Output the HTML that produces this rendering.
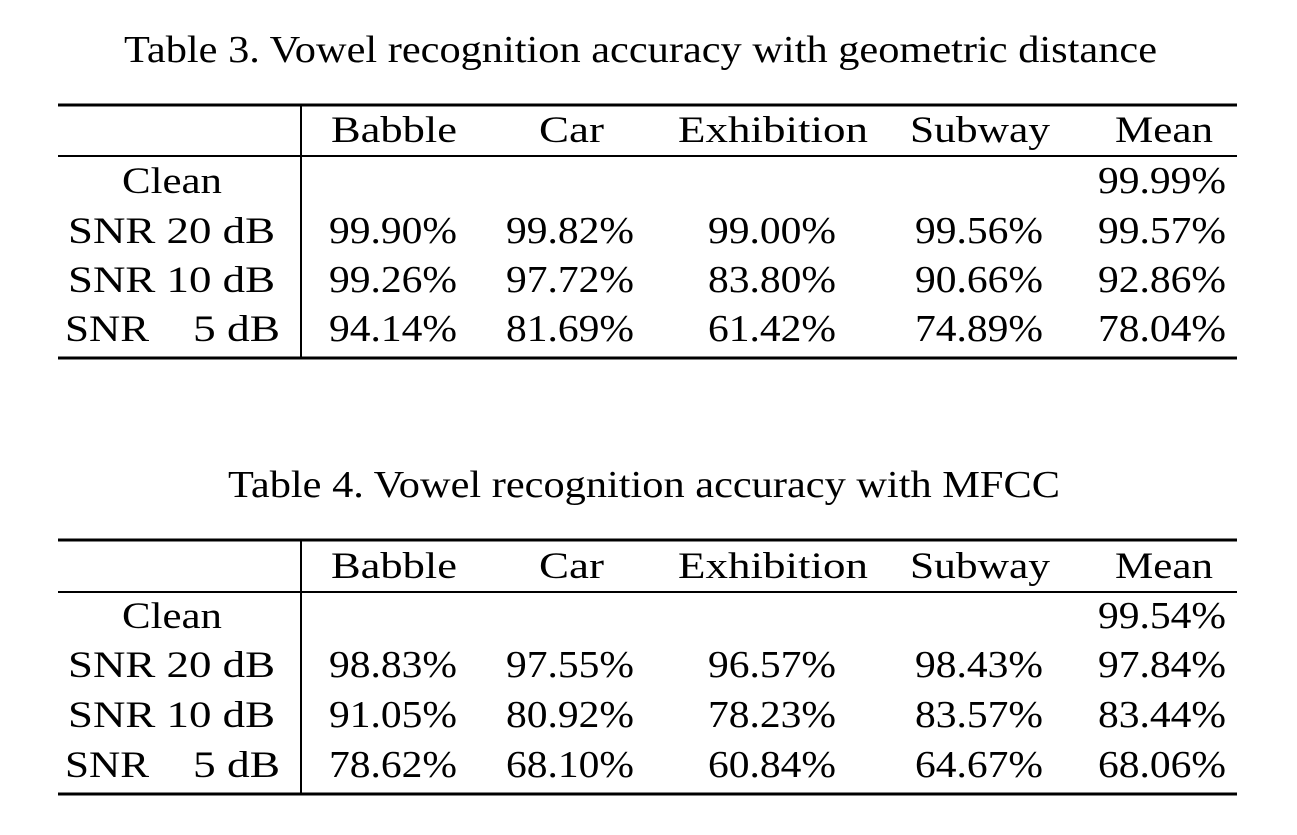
<!DOCTYPE html>
<html><head><meta charset="utf-8"><style>
html,body{margin:0;padding:0;background:#fff;}
svg{display:block;}
text{font-family:"Liberation Serif",serif;fill:#000;}
</style></head><body>
<svg width="1297" height="835" viewBox="0 0 1297 835" xmlns="http://www.w3.org/2000/svg">
<g font-size="38">
<text x="124" y="62" textLength="1033" lengthAdjust="spacingAndGlyphs">Table 3.  Vowel recognition accuracy with geometric distance</text>
<text x="228" y="497" textLength="832" lengthAdjust="spacingAndGlyphs">Table 4.  Vowel recognition accuracy with MFCC</text>
</g>

<g stroke="#000">
<line x1="58" y1="105" x2="1237" y2="105" stroke-width="3"/>
<line x1="58" y1="156" x2="1237" y2="156" stroke-width="2"/>
<line x1="58" y1="358" x2="1237" y2="358" stroke-width="3"/>
<line x1="301" y1="105" x2="301" y2="358" stroke-width="2"/>
<line x1="58" y1="540" x2="1237" y2="540" stroke-width="3"/>
<line x1="58" y1="592" x2="1237" y2="592" stroke-width="2"/>
<line x1="58" y1="794" x2="1237" y2="794" stroke-width="3"/>
<line x1="301" y1="540" x2="301" y2="794" stroke-width="2"/>
</g>

<g font-size="37">
<text x="331" y="142" textLength="126" lengthAdjust="spacingAndGlyphs">Babble</text>
<text x="539" y="142" textLength="65" lengthAdjust="spacingAndGlyphs">Car</text>
<text x="678" y="142" textLength="190" lengthAdjust="spacingAndGlyphs">Exhibition</text>
<text x="910" y="142" textLength="140" lengthAdjust="spacingAndGlyphs">Subway</text>
<text x="1115" y="142" textLength="98" lengthAdjust="spacingAndGlyphs">Mean</text>

<text x="331" y="578" textLength="126" lengthAdjust="spacingAndGlyphs">Babble</text>
<text x="539" y="578" textLength="65" lengthAdjust="spacingAndGlyphs">Car</text>
<text x="678" y="578" textLength="190" lengthAdjust="spacingAndGlyphs">Exhibition</text>
<text x="910" y="578" textLength="140" lengthAdjust="spacingAndGlyphs">Subway</text>
<text x="1115" y="578" textLength="98" lengthAdjust="spacingAndGlyphs">Mean</text>

<text x="122" y="193" textLength="100" lengthAdjust="spacingAndGlyphs">Clean</text>
<text x="68" y="243" textLength="207" lengthAdjust="spacingAndGlyphs">SNR 20 dB</text>
<text x="68" y="292" textLength="207" lengthAdjust="spacingAndGlyphs">SNR 10 dB</text>
<text x="65" y="341" textLength="84" lengthAdjust="spacingAndGlyphs">SNR</text>
<text x="193" y="341" textLength="87" lengthAdjust="spacingAndGlyphs">5 dB</text>

<text x="122" y="628" textLength="100" lengthAdjust="spacingAndGlyphs">Clean</text>
<text x="68" y="677" textLength="207" lengthAdjust="spacingAndGlyphs">SNR 20 dB</text>
<text x="68" y="727" textLength="207" lengthAdjust="spacingAndGlyphs">SNR 10 dB</text>
<text x="65" y="777" textLength="84" lengthAdjust="spacingAndGlyphs">SNR</text>
<text x="193" y="777" textLength="87" lengthAdjust="spacingAndGlyphs">5 dB</text>
</g>

<g font-size="38">
<text x="1098" y="193" textLength="128" lengthAdjust="spacingAndGlyphs">99.99%</text>
<text x="329" y="243" textLength="128" lengthAdjust="spacingAndGlyphs">99.90%</text><text x="506" y="243" textLength="128" lengthAdjust="spacingAndGlyphs">99.82%</text><text x="708" y="243" textLength="128" lengthAdjust="spacingAndGlyphs">99.00%</text><text x="915" y="243" textLength="128" lengthAdjust="spacingAndGlyphs">99.56%</text><text x="1098" y="243" textLength="128" lengthAdjust="spacingAndGlyphs">99.57%</text>
<text x="329" y="292" textLength="128" lengthAdjust="spacingAndGlyphs">99.26%</text><text x="506" y="292" textLength="128" lengthAdjust="spacingAndGlyphs">97.72%</text><text x="708" y="292" textLength="128" lengthAdjust="spacingAndGlyphs">83.80%</text><text x="915" y="292" textLength="128" lengthAdjust="spacingAndGlyphs">90.66%</text><text x="1098" y="292" textLength="128" lengthAdjust="spacingAndGlyphs">92.86%</text>
<text x="329" y="341" textLength="128" lengthAdjust="spacingAndGlyphs">94.14%</text><text x="506" y="341" textLength="128" lengthAdjust="spacingAndGlyphs">81.69%</text><text x="708" y="341" textLength="128" lengthAdjust="spacingAndGlyphs">61.42%</text><text x="915" y="341" textLength="128" lengthAdjust="spacingAndGlyphs">74.89%</text><text x="1098" y="341" textLength="128" lengthAdjust="spacingAndGlyphs">78.04%</text>

<text x="1098" y="628" textLength="128" lengthAdjust="spacingAndGlyphs">99.54%</text>
<text x="329" y="677" textLength="128" lengthAdjust="spacingAndGlyphs">98.83%</text><text x="506" y="677" textLength="128" lengthAdjust="spacingAndGlyphs">97.55%</text><text x="708" y="677" textLength="128" lengthAdjust="spacingAndGlyphs">96.57%</text><text x="915" y="677" textLength="128" lengthAdjust="spacingAndGlyphs">98.43%</text><text x="1098" y="677" textLength="128" lengthAdjust="spacingAndGlyphs">97.84%</text>
<text x="329" y="727" textLength="128" lengthAdjust="spacingAndGlyphs">91.05%</text><text x="506" y="727" textLength="128" lengthAdjust="spacingAndGlyphs">80.92%</text><text x="708" y="727" textLength="128" lengthAdjust="spacingAndGlyphs">78.23%</text><text x="915" y="727" textLength="128" lengthAdjust="spacingAndGlyphs">83.57%</text><text x="1098" y="727" textLength="128" lengthAdjust="spacingAndGlyphs">83.44%</text>
<text x="329" y="777" textLength="128" lengthAdjust="spacingAndGlyphs">78.62%</text><text x="506" y="777" textLength="128" lengthAdjust="spacingAndGlyphs">68.10%</text><text x="708" y="777" textLength="128" lengthAdjust="spacingAndGlyphs">60.84%</text><text x="915" y="777" textLength="128" lengthAdjust="spacingAndGlyphs">64.67%</text><text x="1098" y="777" textLength="128" lengthAdjust="spacingAndGlyphs">68.06%</text>
</g>
</svg>
</body></html>
